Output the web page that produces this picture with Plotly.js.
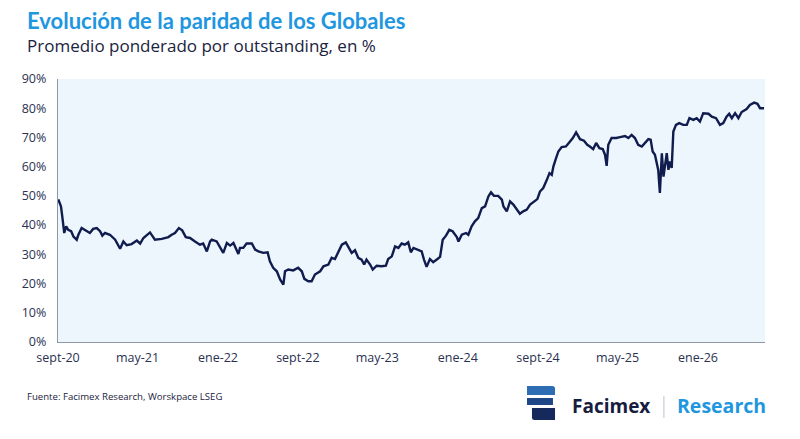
<!DOCTYPE html>
<html>
<head>
<meta charset="utf-8">
<script src="https://cdn.plot.ly/plotly-3.0.1.min.js"></script>
<style>
  html, body { margin: 0; padding: 0; background: #fff; }
  #chart { width: 800px; height: 439px; }
</style>
</head>
<body>
<div id="chart"></div>
<script>
// paridad promedio ponderada
var fechas = [
  "2020-09-02","2020-09-10","2020-09-14","2020-09-20","2020-09-26","2020-10-02","2020-10-11","2020-10-18","2020-10-28",
  "2020-11-02","2020-11-12","2020-11-27","2020-12-07","2020-12-17","2020-12-28","2021-01-07","2021-01-14","2021-01-22",
  "2021-02-06","2021-02-22","2021-03-09","2021-03-19","2021-03-29","2021-04-13","2021-04-29","2021-05-09","2021-05-19",
  "2021-06-08","2021-06-23","2021-07-14","2021-08-03","2021-08-13","2021-08-23","2021-09-04","2021-09-14","2021-09-25",
  "2021-10-08","2021-10-23","2021-11-07","2021-11-17","2021-11-28","2021-12-08","2021-12-13","2021-12-28","2022-01-07",
  "2022-01-17","2022-01-28","2022-02-07","2022-02-17","2022-03-04","2022-03-09","2022-03-19","2022-03-29","2022-04-14",
  "2022-04-24","2022-05-04","2022-05-19","2022-06-01","2022-06-08","2022-06-18","2022-06-29","2022-07-09","2022-07-19",
  "2022-07-24","2022-08-03","2022-08-18","2022-09-02","2022-09-13","2022-09-21","2022-10-03","2022-10-13","2022-10-23",
  "2022-11-08","2022-11-18","2022-12-03","2022-12-13","2022-12-23","2023-01-02","2023-01-13","2023-01-25","2023-02-04",
  "2023-02-12","2023-02-22","2023-03-04","2023-03-14","2023-03-22","2023-03-29","2023-04-09","2023-04-17","2023-04-29",
  "2023-05-14","2023-05-27","2023-06-03","2023-06-14","2023-06-24","2023-07-04","2023-07-14","2023-07-24","2023-08-03",
  "2023-08-11","2023-08-19","2023-09-03","2023-09-13","2023-09-20","2023-09-28","2023-10-08","2023-10-18","2023-10-31",
  "2023-11-08","2023-11-16","2023-11-26","2023-12-06","2023-12-16","2023-12-29","2024-01-03","2024-01-13","2024-01-26",
  "2024-02-02","2024-02-12","2024-02-22","2024-03-03","2024-03-14","2024-03-24","2024-04-03","2024-04-11","2024-04-20",
  "2024-05-03","2024-05-14","2024-05-19","2024-05-29","2024-06-08","2024-06-18","2024-06-28","2024-07-08","2024-07-18",
  "2024-07-29","2024-08-08","2024-08-18","2024-08-30","2024-09-07","2024-09-17","2024-09-28","2024-10-06","2024-10-13",
  "2024-10-18","2024-10-25","2024-11-02","2024-11-12","2024-11-25","2024-12-05","2024-12-16","2024-12-26","2025-01-07",
  "2025-01-19","2025-01-29","2025-02-06","2025-02-16","2025-02-25","2025-03-07","2025-03-17","2025-03-24","2025-03-29",
  "2025-04-03","2025-04-13","2025-04-27","2025-05-09","2025-05-24","2025-06-03","2025-06-13","2025-06-23","2025-07-03",
  "2025-07-14","2025-07-24","2025-08-03","2025-08-10","2025-08-16","2025-08-23","2025-08-28","2025-09-02","2025-09-07",
  "2025-09-13","2025-09-18","2025-09-23","2025-09-28","2025-10-03","2025-10-08","2025-10-13","2025-10-18","2025-10-26",
  "2025-11-05","2025-11-17","2025-11-28","2025-12-06","2025-12-18","2025-12-28","2026-01-07","2026-01-17","2026-02-02",
  "2026-02-12","2026-02-25","2026-03-09","2026-03-19","2026-03-29","2026-04-06","2026-04-14","2026-04-24","2026-05-04",
  "2026-05-14","2026-05-29","2026-06-08","2026-06-21","2026-07-01","2026-07-09","2026-07-21"
];
var paridad = [
  48.8,46.4,43.0,37.3,39.6,38.4,37.9,36.1,35.0,
  36.7,39.0,37.9,37.3,38.7,39.0,37.9,36.4,37.3,
  36.7,35.0,31.9,34.4,33.1,33.5,34.7,33.7,35.6,
  37.5,35.0,35.3,35.9,36.7,37.3,39.0,38.2,35.9,
  35.6,34.4,33.3,33.7,31.0,34.4,35.0,34.4,32.2,
  30.5,33.9,33.0,33.9,30.1,32.2,32.2,33.7,33.7,
  31.6,31.0,30.5,30.7,27.6,25.4,24.2,21.4,19.6,
  24.2,24.8,24.5,25.4,24.2,21.6,20.8,20.8,23.1,
  24.2,25.9,26.5,28.8,28.4,31.0,33.3,34.1,31.8,
  30.5,31.4,28.8,28.2,26.5,28.2,26.5,24.8,26.1,
  25.9,26.1,28.4,29.3,32.7,32.2,33.7,33.3,34.1,
  30.7,32.2,31.6,31.0,28.2,25.7,28.4,27.3,28.4,
  29.1,35.0,36.4,38.4,37.9,35.9,34.4,36.7,37.3,
  36.7,39.6,41.3,42.4,45.8,46.4,49.8,51.2,50.0,
  50.0,48.7,46.4,44.7,48.1,47.0,45.5,43.9,44.7,
  45.3,47.0,47.8,48.9,51.5,52.7,55.5,57.8,57.2,
  60.1,62.6,65.2,66.7,66.9,68.3,69.8,71.7,69.4,
  68.9,67.5,66.9,66.0,68.1,66.3,66.0,64.1,60.3,
  67.5,69.8,69.8,70.1,70.5,69.8,70.9,69.8,67.5,
  66.9,68.3,69.4,69.2,65.2,64.1,61.8,58.9,51.0,
  64.6,56.6,61.8,64.6,58.9,61.8,59.6,72.0,74.3,
  74.9,74.3,74.3,76.6,76.0,76.6,75.4,78.3,78.1,
  77.1,76.6,74.3,74.9,77.1,78.1,76.6,78.3,76.6,
  78.7,79.7,81.1,81.9,81.5,80.0,80.0
];

var xTicks = ["2020-09-01","2021-05-01","2022-01-01","2022-09-01","2023-05-01","2024-01-01","2024-09-01","2025-05-01","2026-01-01"];
var xLabels = ["sept-20","may-21","ene-22","sept-22","may-23","ene-24","sept-24","may-25","ene-26"];
var yTicks = [0,10,20,30,40,50,60,70,80,90];
var yLabels = ["0%","10%","20%","30%","40%","50%","60%","70%","80%","90%"];

var navy = "#101c4e";
var blue = "#1f96e0";

var trace = {
  x: fechas,
  y: paridad,
  type: "scatter",
  mode: "lines",
  line: { color: navy, width: 2.4 },
  hoverinfo: "skip"
};

var layout = {
  width: 800,
  height: 439,
  margin: { l: 58, r: 35, t: 79, b: 97 },
  paper_bgcolor: "#ffffff",
  plot_bgcolor: "#eef6fd",
  showlegend: false,
  font: { family: "Open Sans, sans-serif", color: "#2a3152" },
  xaxis: {
    type: "date",
    range: ["2020-09-01", "2026-07-24"],
    tickvals: xTicks,
    ticktext: xLabels,
    showgrid: false,
    zeroline: false,
    showline: true,
    linecolor: "#8e97a8",
    linewidth: 1.2,
    ticks: "",
    ticklabelstandoff: 4,
    tickfont: { size: 12.5, color: "#2a3152" }
  },
  yaxis: {
    range: [0, 90],
    tickvals: yTicks,
    ticktext: yLabels,
    showgrid: false,
    zeroline: false,
    showline: true,
    linecolor: "#8e97a8",
    linewidth: 1.2,
    ticks: "",
    ticklabelstandoff: 8,
    tickfont: { size: 12.5, color: "#2a3152" }
  },
  annotations: [
    { text: "Evolución de la paridad de los Globales", xref: "paper", yref: "paper",
      x: -0.047, y: 1.224, xanchor: "left", yanchor: "middle", showarrow: false,
      font: { family: "Lato, sans-serif", size: 22, color: blue, weight: 700 } },
    { text: "Promedio ponderado por outstanding, en %", xref: "paper", yref: "paper",
      x: -0.047, y: 1.126, xanchor: "left", yanchor: "middle", showarrow: false,
      font: { size: 17, color: "#1b2340" } },
    { text: "Fuente: Facimex Research, Worskpace LSEG", xref: "paper", yref: "paper",
      x: -0.047, y: -0.209, xanchor: "left", yanchor: "middle", showarrow: false,
      font: { size: 9.6, color: "#1b2340" } },
    { text: "Facimex", xref: "paper", yref: "paper",
      x: 0.724, y: -0.243, xanchor: "left", yanchor: "middle", showarrow: false,
      font: { size: 19, color: "#161d3f", weight: 700 } },
    { text: "Research", xref: "paper", yref: "paper",
      x: 0.873, y: -0.243, xanchor: "left", yanchor: "middle", showarrow: false,
      font: { size: 19.5, color: blue, weight: 700 } }
  ],
  shapes: [
    { type: "line", xref: "paper", yref: "paper", x0: 0.857, x1: 0.857, y0: -0.205, y1: -0.289,
      line: { color: "#c9ccd3", width: 1.2 } },
    { type: "path", xref: "paper", yref: "paper", fillcolor: "#2e6cb4", line: { width: 0 },
      path: "M0.6634,-0.1673 L0.6990,-0.1673 Q0.7030,-0.1673 0.7030,-0.1780 L0.7030,-0.2015 L0.6634,-0.2015 Z" },
    { type: "path", xref: "paper", yref: "paper", fillcolor: "#1f4788", line: { width: 0 },
      path: "M0.6634,-0.2129 L0.7001,-0.2129 L0.7001,-0.2395 L0.6634,-0.2395 Z" },
    { type: "path", xref: "paper", yref: "paper", fillcolor: "#15295c", line: { width: 0 },
      path: "M0.6704,-0.2510 L0.7030,-0.2510 L0.7030,-0.2966 L0.6740,-0.2966 Q0.6704,-0.2966 0.6704,-0.2880 Z" }
  ]
};

Plotly.newPlot("chart", [trace], layout, { displayModeBar: false, staticPlot: true });
</script>
</body>
</html>
